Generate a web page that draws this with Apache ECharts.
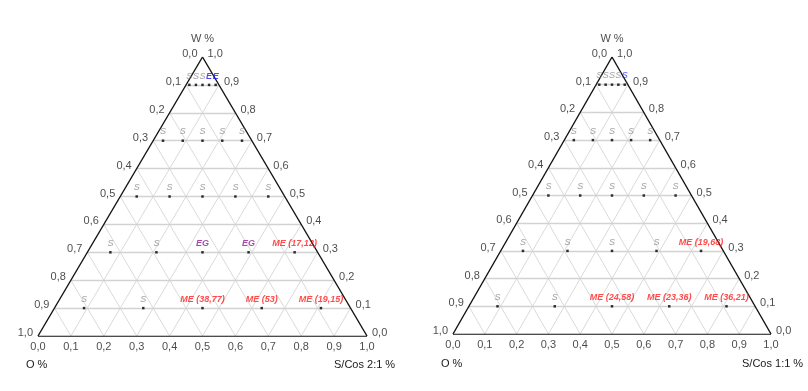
<!DOCTYPE html>
<html><head><meta charset="utf-8">
<script src="https://cdn.jsdelivr.net/npm/echarts@6/dist/echarts.min.js"></script>
<style>html,body{margin:0;background:#fff}#c{width:808px;height:391px}</style>
</head><body><div id="c"></div>
<script>
// ---- data ----
const tickValues = [0, 0.1, 0.2, 0.3, 0.4, 0.5, 0.6, 0.7, 0.8, 0.9, 1.0];
const tickLabels = ['0,0','0,1','0,2','0,3','0,4','0,5','0,6','0,7','0,8','0,9','1,0'];
const gridLevels = [0.1, 0.2, 0.3, 0.4, 0.5, 0.6, 0.7, 0.8, 0.9];

// chart A (S/Cos 2:1)
const aW = [0.9,0.9,0.9,0.9,0.9, 0.7,0.7,0.7,0.7,0.7, 0.5,0.5,0.5,0.5,0.5, 0.3,0.3,0.3,0.3,0.3, 0.1,0.1,0.1,0.1,0.1];
const aS = [0.01,0.03,0.05,0.07,0.09, 0.03,0.09,0.15,0.21,0.27, 0.05,0.15,0.25,0.35,0.45, 0.07,0.21,0.35,0.49,0.63, 0.09,0.27,0.45,0.63,0.81];
const aLabels = ['S','S','S','E','E', 'S','S','S','S','S', 'S','S','S','S','S', 'S','S','EG','EG','ME (17,12)', 'S','S','ME (38,77)','ME (53)','ME (19,15)'];

// chart B (S/Cos 1:1)
const bW = [0.9,0.9,0.9,0.9,0.9, 0.7,0.7,0.7,0.7,0.7, 0.5,0.5,0.5,0.5,0.5, 0.3,0.3,0.3,0.3,0.3, 0.1,0.1,0.1,0.1,0.1];
const bS = [0.01,0.03,0.05,0.07,0.09, 0.03,0.09,0.15,0.21,0.27, 0.05,0.15,0.25,0.35,0.45, 0.07,0.21,0.35,0.49,0.63, 0.09,0.27,0.45,0.63,0.81];
const bLabels = ['S','S','S','S','S', 'S','S','S','S','S', 'S','S','S','S','S', 'S','S','S','S','ME (19,68)', 'S','S','ME (24,58)','ME (23,36)','ME (36,21)'];

const topTitle = 'W %';
const leftTitle = 'O %';
const aBottomTitle = 'S/Cos 2:1 %';
const bBottomTitle = 'S/Cos 1:1 %';

// ---- build ----
const labelColors = { 'S': '#8a8a8a', 'E': '#1f1fff', 'EG': '#8e1c8e', 'ME': '#ff1e1e', 'B': '#1f1fff' };
const lastBlue = { a: -1, b: 4 }; // chart B's top-right S drawn in blue
function xy(s, w) { return [s + w / 2, w]; }
const FONT = 'Liberation Sans, Arial, sans-serif';

function chartSeries(gi, W, S, L, blueIdx) {
  const series = [];
  const horiz = [], slant = [];
  gridLevels.forEach(t => {
    horiz.push({ coords: [xy(0, t), xy(1 - t, t)] });
    slant.push({ coords: [xy(t, 0), xy(t, 1 - t)] });
    slant.push({ coords: [xy(1 - t, 0), xy(0, 1 - t)] });
  });
  series.push({ type: 'lines', coordinateSystem: 'cartesian2d', xAxisIndex: gi, yAxisIndex: gi, silent: true,
    lineStyle: { color: '#dadada', width: 1, opacity: 1 }, data: slant, z: 1 });
  series.push({ type: 'lines', coordinateSystem: 'cartesian2d', xAxisIndex: gi, yAxisIndex: gi, silent: true,
    lineStyle: { color: '#d2d2d2', width: 1.4, opacity: 1 }, data: horiz, z: 2 });
  series.push({ type: 'lines', coordinateSystem: 'cartesian2d', xAxisIndex: gi, yAxisIndex: gi, silent: true,
    lineStyle: { color: '#111', width: 1.4, opacity: 1 },
    data: [{ coords: [xy(0, 0), xy(1, 0)] }, { coords: [xy(1, 0), xy(0, 1)] }, { coords: [xy(0, 1), xy(0, 0)] }], z: 3 });
  // points
  const pts = W.map((w, i) => {
    const key = L[i].split(' ')[0];
    let col = labelColors[key] || '#333';
    if (i === blueIdx) col = labelColors['B'];
    const bold = key !== 'S';
    return { value: xy(S[i], w).concat([L[i]]),
      label: { color: col, fontWeight: bold ? 'bold' : 'normal' } };
  });
  series.push({ type: 'scatter', xAxisIndex: gi, yAxisIndex: gi, symbol: 'rect', symbolSize: 2.5,
    itemStyle: { color: '#000' }, data: pts, z: 5,
    label: { show: true, position: 'top', distance: 3, fontSize: 9, fontStyle: 'italic', fontFamily: FONT,
      formatter: p => p.value[2] } });
  // tick labels
  const tickStyle = { show: true, fontSize: 11, color: '#1a1a1a', fontFamily: FONT, formatter: p => p.value[2] };
  series.push({ type: 'scatter', xAxisIndex: gi, yAxisIndex: gi, symbolSize: 0, silent: true, z: 6,
    data: tickValues.map((v, i) => xy(0, 1 - v).concat([tickLabels[i]])),
    label: Object.assign({}, tickStyle, { position: 'left', distance: 5, offset: [0, -3] }) });
  series.push({ type: 'scatter', xAxisIndex: gi, yAxisIndex: gi, symbolSize: 0, silent: true, z: 6,
    data: tickValues.map((v, i) => xy(1 - v, v).concat([tickLabels[i]])),
    label: Object.assign({}, tickStyle, { position: 'right', distance: 5, offset: [0, -3] }) });
  series.push({ type: 'scatter', xAxisIndex: gi, yAxisIndex: gi, symbolSize: 0, silent: true, z: 6,
    data: tickValues.map((v, i) => xy(v, 0).concat([tickLabels[i]])),
    label: Object.assign({}, tickStyle, { position: 'bottom', distance: 5 }) });
  series.push({ type: 'scatter', xAxisIndex: gi, yAxisIndex: gi, symbolSize: 0, silent: true, z: 6,
    data: [xy(0, 1).concat([topTitle])],
    label: Object.assign({}, tickStyle, { position: 'top', distance: 13 }) });
  return series;
}

const grids = [
  { left: 38, top: 57, width: 329, height: 279 },
  { left: 453, top: 57, width: 318, height: 277 }
];
const axisBase = { type: 'value', min: 0, max: 1, show: false };
const option = {
  animation: false,
  backgroundColor: '#fff',
  grid: grids,
  xAxis: grids.map((g, i) => Object.assign({ gridIndex: i }, axisBase)),
  yAxis: grids.map((g, i) => Object.assign({ gridIndex: i }, axisBase)),
  title: [
    { text: leftTitle, left: 26, top: 359, padding: 0, textStyle: { fontSize: 11, fontWeight: 'normal', color: '#1a1a1a', fontFamily: FONT } },
    { text: aBottomTitle, left: 334, top: 359, padding: 0, textStyle: { fontSize: 11, fontWeight: 'normal', color: '#1a1a1a', fontFamily: FONT } },
    { text: leftTitle, left: 441, top: 358, padding: 0, textStyle: { fontSize: 11, fontWeight: 'normal', color: '#1a1a1a', fontFamily: FONT } },
    { text: bBottomTitle, left: 742, top: 358, padding: 0, textStyle: { fontSize: 11, fontWeight: 'normal', color: '#1a1a1a', fontFamily: FONT } }
  ],
  series: chartSeries(0, aW, aS, aLabels, lastBlue.a).concat(chartSeries(1, bW, bS, bLabels, lastBlue.b))
};
const chart = echarts.init(document.getElementById('c'), null, { renderer: 'canvas' });
chart.setOption(option);
</script>
</body></html>
